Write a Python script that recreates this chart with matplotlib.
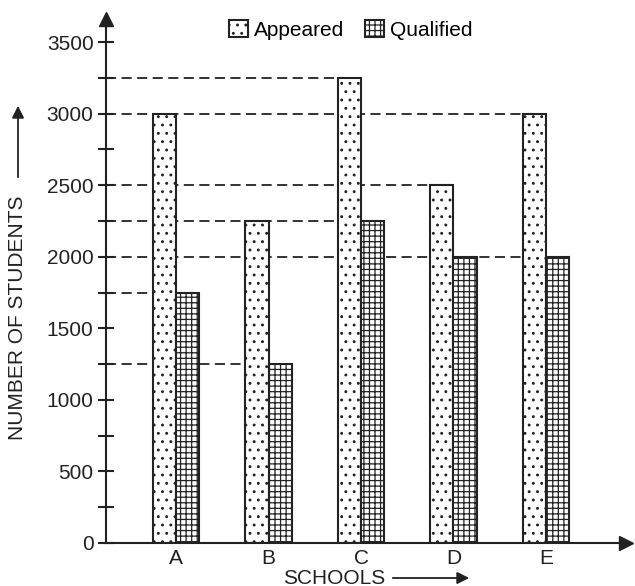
import matplotlib
matplotlib.use("Agg")
import matplotlib.pyplot as plt
from matplotlib.patches import FancyArrowPatch
import numpy as np

schools = ["A", "B", "C", "D", "E"]
appeared = [3000, 2250, 3250, 2500, 3000]
qualified = [1750, 1250, 2250, 2000, 2000]
yticks = [0, 500, 1000, 1500, 2000, 2500, 3000, 3500]

plt.rcParams['font.family'] = ['Liberation Sans', 'DejaVu Sans']
plt.rcParams['hatch.linewidth'] = 0.9
INK = "#222222"
FS = 15

fig = plt.figure(figsize=(6.35, 5.86), dpi=100)
ax = fig.add_axes([106/635, 43/586, 520/635, 524/586])

x = np.arange(len(schools))
w = 0.25
XL = (-0.757, 4.865)
ax.set_xlim(*XL)
ax.set_ylim(0, 3661)

# dashed guide lines from the axis to the left edge of the farthest bar of that height
lefts = list(x - w) + list(x)
vals = appeared + qualified
for v in sorted(set(vals)):
    xe = max(l for l, vv in zip(lefts, vals) if vv == v)
    ax.plot([XL[0], xe], [v, v], color="#333333", lw=1.4, dashes=(5.2, 2.8), zorder=1)

ax.bar(x - w/2, appeared, w, color="white", edgecolor=INK, lw=1.5,
       hatch="..", label="Appeared", zorder=2)
ax.bar(x + w/2, qualified, w, color="white", edgecolor=INK, lw=1.5,
       hatch="+++", label="Qualified", zorder=2)

for s in ["top", "right"]:
    ax.spines[s].set_visible(False)
for s in ["left", "bottom"]:
    ax.spines[s].set_linewidth(1.5)
    ax.spines[s].set_color(INK)

ax.set_yticks(yticks)
ax.set_yticks(np.arange(250, 3500, 500), minor=True)
ax.tick_params(axis="y", which="both", direction="inout", length=12, width=1.5,
               labelsize=FS, colors=INK, pad=3)
ax.set_xticks(x)
ax.set_xticklabels(schools)
ax.tick_params(axis="x", length=0, labelsize=FS, pad=4, colors=INK)

# axis arrows
ax.plot(1, 0, ">", color=INK, ms=10, transform=ax.transAxes, clip_on=False)
ax.plot(0, 1, "^", color=INK, ms=10, transform=ax.transAxes, clip_on=False)

leg = fig.legend(*ax.get_legend_handles_labels(), loc="center", bbox_to_anchor=(351/635, 1 - 30/586),
                 ncol=2, frameon=False, fontsize=FS, handlelength=0.9, handleheight=0.9,
                 columnspacing=1.0, handletextpad=0.3, borderaxespad=0, borderpad=0)

# axis labels with arrows
fig.text(283/635, 1 - 578/586, "SCHOOLS", fontsize=FS, va="center", ha="left", color=INK)
fig.add_artist(FancyArrowPatch((390/635, 1 - 578/586), (472/635, 1 - 578/586),
               transform=fig.transFigure, arrowstyle="-|>", mutation_scale=18,
               color=INK, lw=1.3))
fig.text(18/635, 1 - 440/586, "NUMBER OF STUDENTS", fontsize=FS, rotation=90,
         va="bottom", ha="center", color=INK)
fig.add_artist(FancyArrowPatch((18/635, 1 - 180/586), (18/635, 1 - 103/586),
               transform=fig.transFigure, arrowstyle="-|>", mutation_scale=18,
               color=INK, lw=1.3))

fig.savefig("out.png", dpi=100)
